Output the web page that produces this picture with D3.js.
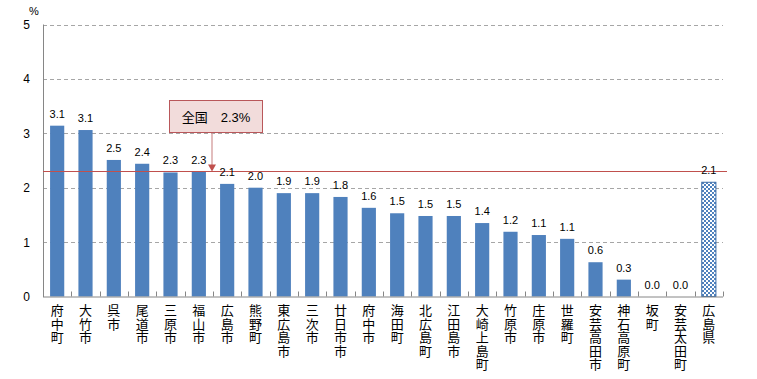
<!DOCTYPE html>
<html><head><meta charset="utf-8">
<script src="https://cdn.jsdelivr.net/npm/d3@7"></script>
<style>body{margin:0;background:#fff}svg{display:block}</style>
</head><body>
<svg id="c" width="757" height="379"></svg>
<script>
const categories = ["府中町","大竹市","呉市","尾道市","三原市","福山市","広島市","熊野町","東広島市","三次市","廿日市市","府中市","海田町","北広島町","江田島市","大崎上島町","竹原市","庄原市","世羅町","安芸高田市","神石高原町","坂町","安芸太田町","広島県"];
const values = [3.14,3.06,2.51,2.44,2.28,2.29,2.07,2.0,1.9,1.9,1.83,1.63,1.53,1.48,1.48,1.35,1.19,1.13,1.06,0.63,0.31,0.0,0.0,2.1];
const yTicks = [0,1,2,3,4,5];
const nationalValue = 2.3;
const nationalLabel = "全国　2.3%";
const unitLabel = "%";

(function(){
const svg = d3.select("#c");
const font = "'Liberation Sans','Noto Sans CJK JP',sans-serif";
const pLeft = 43, pRight = 723, pTop = 24.5, pBottom = 296.5;
const x = d3.scaleBand().domain(categories).range([pLeft, pRight]).paddingInner(0.5).paddingOuter(0.25);
const y = d3.scaleLinear().domain([0,5]).range([pBottom, pTop]);

const defs = svg.append("defs");
const pat = defs.append("pattern").attr("id","chk").attr("patternUnits","userSpaceOnUse")
  .attr("width",4).attr("height",4);
pat.append("rect").attr("width",4).attr("height",4).attr("fill","#fff");
pat.append("rect").attr("width",2).attr("height",2).attr("fill","#4f81bd");
pat.append("rect").attr("x",2).attr("y",2).attr("width",2).attr("height",2).attr("fill","#4f81bd");

// gridlines
svg.append("g").selectAll("line").data(yTicks.filter(d=>d>0)).join("line")
  .attr("x1",pLeft).attr("x2",pRight).attr("y1",d=>Math.round(y(d))+0.5).attr("y2",d=>Math.round(y(d))+0.5)
  .attr("stroke","#a6a6a6").attr("stroke-dasharray","4,3").attr("stroke-width",1);

// y labels
svg.append("g").selectAll("text").data(yTicks).join("text")
  .attr("x",30).attr("y",d=>y(d)+4.5).attr("text-anchor","end")
  .attr("font-family",font).attr("font-size",12).attr("fill","#000").text(d=>d);
svg.append("text").attr("x",34).attr("y",15).attr("text-anchor","middle")
  .attr("font-family",font).attr("font-size",11).text(unitLabel);

// bars
const last = categories.length-1;
svg.append("g").selectAll("rect").data(values).join("rect")
  .attr("x",(d,i)=>x(categories[i])).attr("width",x.bandwidth())
  .attr("y",d=>y(d)).attr("height",d=>pBottom-y(d))
  .attr("fill",(d,i)=>i===last?"url(#chk)":"#4f81bd")
  .attr("stroke",(d,i)=>i===last?"#3d6ea8":"none").attr("stroke-width",1);

// axes
svg.append("line").attr("x1",pLeft+0.5).attr("x2",pLeft+0.5).attr("y1",pTop).attr("y2",pBottom+0.5)
  .attr("stroke","#868686");
svg.append("line").attr("x1",pLeft).attr("x2",pRight).attr("y1",pBottom+0.5).attr("y2",pBottom+0.5)
  .attr("stroke","#868686");
const step = x.step();
const tickXs = d3.range(categories.length+1).map(i=>pLeft+i*step);
svg.append("g").selectAll("line").data(tickXs).join("line")
  .attr("x1",d=>Math.round(d)+0.5).attr("x2",d=>Math.round(d)+0.5)
  .attr("y1",pBottom-5).attr("y2",pBottom).attr("stroke","#868686");

// national line
svg.append("line").attr("x1",pLeft).attr("x2",727).attr("y1",Math.round(y(nationalValue))+0.5).attr("y2",Math.round(y(nationalValue))+0.5)
  .attr("stroke","#c0504d").attr("stroke-width",1);

// value labels
svg.append("g").selectAll("text").data(values).join("text")
  .attr("x",(d,i)=>x(categories[i])+x.bandwidth()/2).attr("y",d=>y(d)-8)
  .attr("text-anchor","middle").attr("font-family",font).attr("font-size",11).attr("fill","#000")
  .text(d=>d3.format(".1f")(d));

// category labels (vertical)
svg.append("g").selectAll("text").data(categories).join("text")
  .attr("font-family","'Noto Sans CJK JP',sans-serif").attr("font-size",13).attr("fill","#000")
  .attr("style","writing-mode:vertical-rl;letter-spacing:0.4px")
  .attr("text-anchor","start")
  .attr("x",d=>x(d)+x.bandwidth()/2).attr("y",304)
  .text(d=>d);

// callout
const bx = 169.5, by = 100.5, bw = 93, bh = 32;
const ax = 212;
svg.append("line").attr("x1",ax).attr("x2",ax).attr("y1",by+bh).attr("y2",y(nationalValue)-6)
  .attr("stroke","#d39a9a").attr("stroke-width",1.3);
svg.append("path").attr("d",`M${ax-4},${y(nationalValue)-7}L${ax+4},${y(nationalValue)-7}L${ax},${y(nationalValue)}Z`)
  .attr("fill","#c0504d");
svg.append("rect").attr("x",bx).attr("y",by).attr("width",bw).attr("height",bh)
  .attr("fill","#f2dcdb").attr("stroke","#b9575a").attr("stroke-width",1);
svg.append("text").attr("x",bx+bw/2).attr("y",by+21).attr("text-anchor","middle")
  .attr("font-family",font).attr("font-size",13).attr("fill","#000").text(nationalLabel);
})();
</script>
</body></html>
